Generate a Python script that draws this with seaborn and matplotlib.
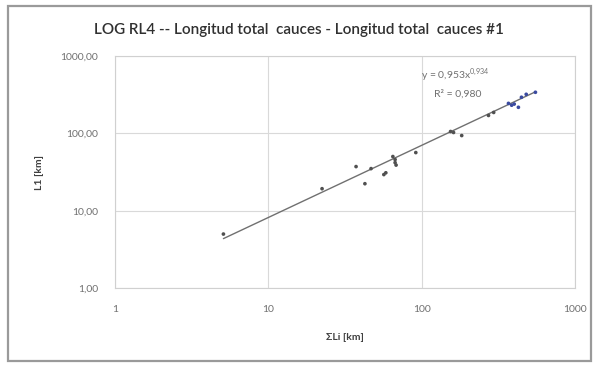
import matplotlib.pyplot as plt
import matplotlib.ticker as mticker
import numpy as np
import pandas as pd
import seaborn as sns

# Valores (km)
suma_li = [5.1, 22.4, 37.3, 42.6, 46.7, 56.6, 58.3, 64.8, 67, 67, 68,
           91.4, 154, 161, 182, 272, 294]
l1 = [5.0, 19.3, 37.3, 22.4, 35.1, 29.4, 31, 50.3, 46, 42, 39,
      56.6, 106, 103, 94, 171, 187]

# Serie azul (cuencas mayores)
suma_li_azul = [367, 385, 400, 426, 446, 479, 550]
l1_azul = [245, 232, 240, 218, 294, 321, 341]

coef_a = 0.953
coef_b = 0.934
r2 = 0.980

titulo = "LOG RL4 -- Longitud total  cauces - Longitud total  cauces #1"

sns.set_theme(style="white")
plt.rcParams["font.family"] = ["Lato", "DejaVu Sans"]
plt.rcParams["mathtext.fontset"] = "custom"
plt.rcParams["mathtext.rm"] = "Lato"

df = pd.DataFrame({"x": suma_li, "y": l1})
df_azul = pd.DataFrame({"x": suma_li_azul, "y": l1_azul})

fig = plt.figure(figsize=(5.98, 3.67), dpi=100)
ax = fig.add_axes([0.192, 0.215, 0.77, 0.632])

# Curva de ajuste potencial
x_fit = np.logspace(np.log10(min(suma_li)), np.log10(max(suma_li_azul)), 100)
y_fit = coef_a * x_fit ** coef_b
ax.plot(x_fit, y_fit, color="#707070", lw=1.0, zorder=2)

sns.scatterplot(data=df, x="x", y="y", ax=ax, color="#505050", s=7,
                edgecolor="none", zorder=3)
sns.scatterplot(data=df_azul, x="x", y="y", ax=ax, color="#3a4aa0", s=7,
                edgecolor="none", zorder=3)

ax.set_xscale("log")
ax.set_yscale("log")
ax.set_xlim(1, 1000)
ax.set_ylim(1, 1000)

ax.xaxis.set_major_locator(mticker.FixedLocator([1, 10, 100, 1000]))
ax.xaxis.set_major_formatter(mticker.FixedFormatter(["1", "10", "100", "1000"]))
ax.yaxis.set_major_locator(mticker.FixedLocator([1, 10, 100, 1000]))
ax.yaxis.set_major_formatter(
    mticker.FixedFormatter(["1,00", "10,00", "100,00", "1000,00"]))
ax.xaxis.set_minor_locator(mticker.NullLocator())
ax.yaxis.set_minor_locator(mticker.NullLocator())

ax.grid(True, color="#d9d9d9", lw=0.8)
ax.tick_params(axis="both", labelsize=7.5, colors="#707070", length=0, pad=12)
for lado in ax.spines.values():
    lado.set_color("#d0d0d0")
    lado.set_linewidth(0.8)

ax.set_xlabel("ΣLi [km]", fontsize=7.5, color="#404040", fontweight="bold",
              labelpad=14)
ax.set_ylabel("L1 [km]", fontsize=7.5, color="#404040", fontweight="bold",
              labelpad=12)

ecuacion = (f"y = {coef_a:.3f}x".replace(".", ",")
            + r"$^{" + f"{coef_b:.3f}".replace(".", "{,}") + "}$")
ax.text(0.74, 0.9, ecuacion, transform=ax.transAxes, fontsize=7.5,
        color="#707070", ha="center")
ax.text(0.745, 0.825, f"R² = {r2:.3f}".replace(".", ","),
        transform=ax.transAxes, fontsize=7.5, color="#707070", ha="center")

fig.text(0.5, 0.918, titulo, ha="center", va="center", fontsize=11,
         color="#303030", fontweight="semibold")

# Marco exterior del gráfico
marco = plt.Rectangle((0.014, 0.016), 0.974, 0.968, transform=fig.transFigure,
                      fill=False, edgecolor="#9a9a9a", lw=1.6)
fig.patches.append(marco)

fig.savefig("out.png", dpi=100)
